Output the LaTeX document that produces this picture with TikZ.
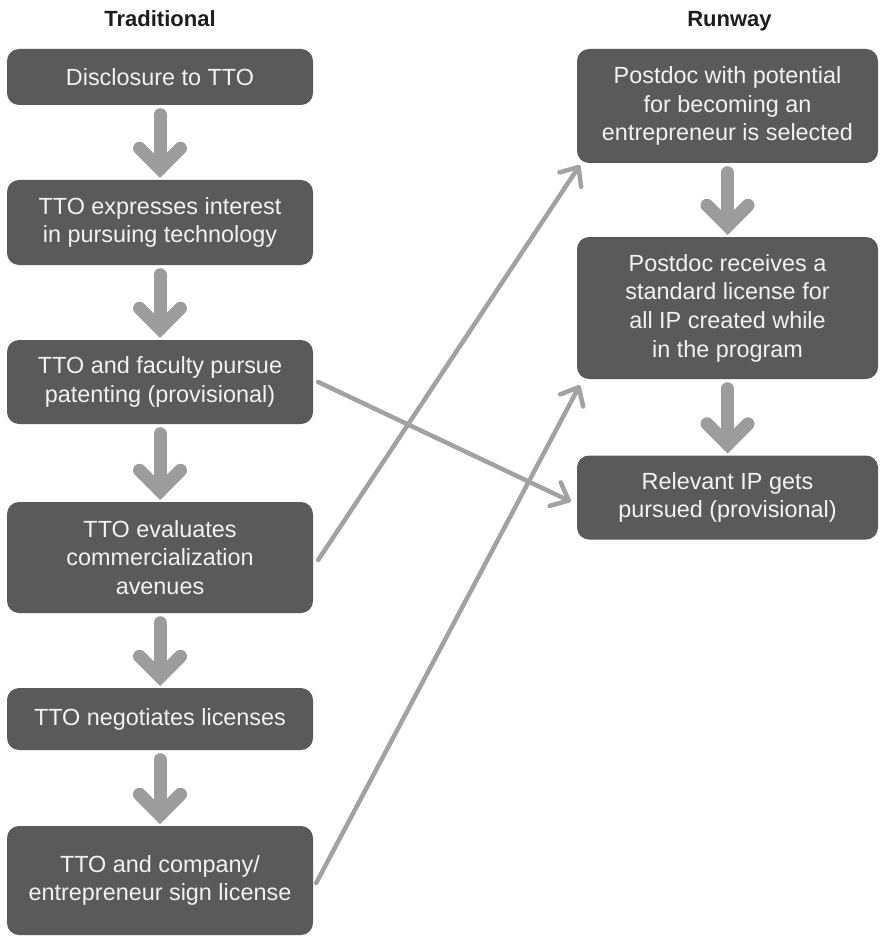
\documentclass[tikz,border=0pt]{standalone}
\usepackage{fontspec}
\setmainfont{Liberation Sans}
\usetikzlibrary{arrows.meta,calc}
\definecolor{boxfill}{HTML}{5A5A5A}
\definecolor{arrowgray}{HTML}{9C9C9C}
\definecolor{linegray}{HTML}{A2A2A2}
\definecolor{titlecol}{HTML}{1E1E1E}
\definecolor{boxtext}{HTML}{F2F2F2}
\newcommand\bigarr[2]{%
  \draw[bigshaft] ($(#1.south)+(0,9.5)$) -- ($(#2.north)+(0,-11)$);
  \draw[bighead] ($(#2.north)+(-20.5,-31.5)$) -- ($(#2.north)+(0,-11)$) -- ($(#2.north)+(20.5,-31.5)$);}
\tikzset{
  box/.style={draw=none, fill=boxfill, rounded corners=12pt, text=boxtext,
    align=center, font=\fontsize{23.4}{28.7}\selectfont, inner sep=0pt},
  leftbox/.style={box, minimum width=306pt},
  rightbox/.style={box, minimum width=301pt},
  coltitle/.style={font=\fontsize{22}{25}\selectfont\bfseries, text=titlecol, anchor=base, inner sep=0pt},
  bigshaft/.style={draw=arrowgray, line width=13pt, line cap=round},
  bighead/.style={draw=arrowgray, line width=13pt, line cap=round, line join=miter},
  thinarr/.style={draw=linegray, line width=4.5pt, line cap=round,
    -{Straight Barb[length=15pt,width=26pt,round]}}
}
\begin{document}
\begin{tikzpicture}[x=1pt,y=-1pt]
\fill[white] (0,0) rectangle (879,936);
\useasboundingbox (0,0) rectangle (879,936);

\node[coltitle] (tt) at (160,27) {Traditional};
\node[coltitle] (tr) at (729.5,27) {Runway};

\node[leftbox, minimum height=56pt]  (L1) at (160,77)    {Disclosure to TTO};
\node[leftbox, minimum height=85pt]  (L2) at (160,222.5) {TTO expresses interest\\in pursuing technology};
\node[leftbox, minimum height=84pt]  (L3) at (160,382)   {TTO and faculty pursue\\patenting (provisional)};
\node[leftbox, minimum height=111pt] (L4) at (160,557.5) {TTO evaluates\\commercialization\\avenues};
\node[leftbox, minimum height=62pt]  (L5) at (160,719)   {TTO negotiates licenses};
\node[leftbox, minimum height=109pt] (L6) at (160,880.5) {TTO and company/\\entrepreneur sign license};

\node[rightbox, minimum height=114pt] (R1) at (727.5,106)   {Postdoc with potential\\for becoming an\\entrepreneur is selected};
\node[rightbox, minimum height=142pt] (R2) at (727.5,308)   {Postdoc receives a\\standard license for\\all IP created while\\in the program};
\node[rightbox, minimum height=84pt]  (R3) at (727.5,497.5) {Relevant IP gets\\pursued (provisional)};

\bigarr{L1}{L2}
\bigarr{L2}{L3}
\bigarr{L3}{L4}
\bigarr{L4}{L5}
\bigarr{L5}{L6}
\bigarr{R1}{R2}
\bigarr{R2}{R3}

\draw[thinarr] ([xshift=5pt]L3.east) -- ([xshift=-6pt,yshift=-4pt]R3.west);
\draw[thinarr] ([xshift=5pt,yshift=-2.5pt]L4.east) -- ([xshift=3pt,yshift=-2pt]R1.south west);
\draw[thinarr] ([xshift=3pt,yshift=-2.5pt]L6.east) -- ([xshift=3pt,yshift=-6pt]R2.south west);
\end{tikzpicture}
\end{document}
